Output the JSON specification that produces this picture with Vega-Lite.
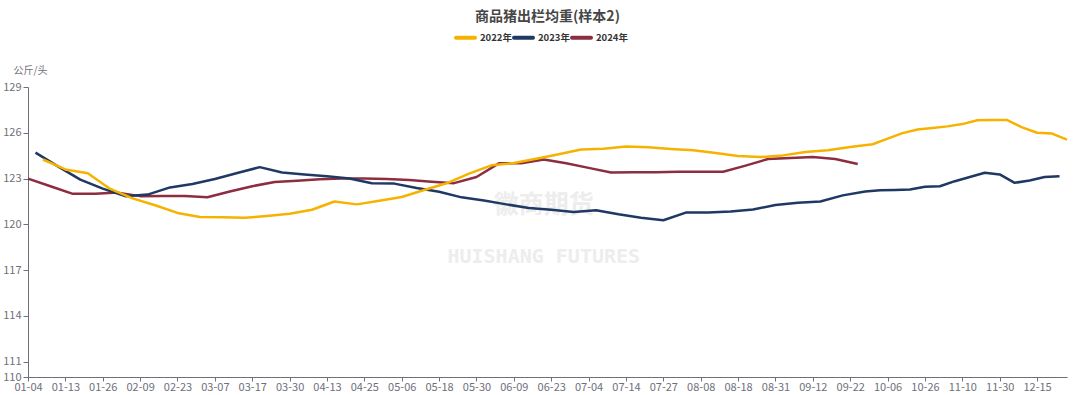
{
  "$schema": "https://vega.github.io/schema/vega-lite/v6.json",
  "autosize": {"type": "none"},
  "width": 1039,
  "height": 290,
  "padding": {"left": 28, "top": 87, "right": 13, "bottom": 18},
  "background": "white",
  "title": {"text": "商品猪出栏均重(样本2)", "anchor": "middle", "frame": "group", "offset": 2, "fontSize": 14, "font": "Noto Sans CJK SC", "fontWeight": "bold", "color": "#464646"},
  "config": {
    "view": {"stroke": null},
    "font": "Noto Sans CJK SC",
    "axis": {"domainColor": "#6E7079", "tickColor": "#6E7079", "labelColor": "#6E7079", "labelFontSize": 11, "labelFont": "Noto Sans CJK SC", "grid": false}
  },
  "datasets": {
    "watermark": [
      {"d": "06-20", "v": 121.25, "label": "徽商期货", "kind": "cn"},
      {"d": "06-20", "v": 117.85, "label": "HUISHANG FUTURES", "kind": "en"}
    ],
    "series": [
      {"d": "01-04", "year": "2024年", "v": 123.0},
      {"d": "01-09", "year": "2024年", "v": 122.5},
      {"d": "01-16", "year": "2024年", "v": 122.0},
      {"d": "01-23", "year": "2024年", "v": 122.0},
      {"d": "02-01", "year": "2024年", "v": 122.08},
      {"d": "02-09", "year": "2024年", "v": 121.85},
      {"d": "02-17", "year": "2024年", "v": 121.86},
      {"d": "02-25", "year": "2024年", "v": 121.86},
      {"d": "03-05", "year": "2024年", "v": 121.78},
      {"d": "03-11", "year": "2024年", "v": 122.15},
      {"d": "03-17", "year": "2024年", "v": 122.5},
      {"d": "03-25", "year": "2024年", "v": 122.77},
      {"d": "04-02", "year": "2024年", "v": 122.85},
      {"d": "04-10", "year": "2024年", "v": 122.95},
      {"d": "04-18", "year": "2024年", "v": 123.0},
      {"d": "04-25", "year": "2024年", "v": 123.0},
      {"d": "05-02", "year": "2024年", "v": 122.97},
      {"d": "05-08", "year": "2024年", "v": 122.9},
      {"d": "05-16", "year": "2024年", "v": 122.8},
      {"d": "05-23", "year": "2024年", "v": 122.7},
      {"d": "05-30", "year": "2024年", "v": 123.1},
      {"d": "06-05", "year": "2024年", "v": 124.0},
      {"d": "06-12", "year": "2024年", "v": 124.0},
      {"d": "06-20", "year": "2024年", "v": 124.25},
      {"d": "06-27", "year": "2024年", "v": 124.0},
      {"d": "07-04", "year": "2024年", "v": 123.7},
      {"d": "07-10", "year": "2024年", "v": 123.4},
      {"d": "07-17", "year": "2024年", "v": 123.41},
      {"d": "07-24", "year": "2024年", "v": 123.42},
      {"d": "08-01", "year": "2024年", "v": 123.44},
      {"d": "08-08", "year": "2024年", "v": 123.45},
      {"d": "08-14", "year": "2024年", "v": 123.45},
      {"d": "08-21", "year": "2024年", "v": 123.85},
      {"d": "08-28", "year": "2024年", "v": 124.28},
      {"d": "09-05", "year": "2024年", "v": 124.35},
      {"d": "09-12", "year": "2024年", "v": 124.42},
      {"d": "09-18", "year": "2024年", "v": 124.28},
      {"d": "09-25", "year": "2024年", "v": 123.95},

      {"d": "01-06", "year": "2023年", "v": 124.7},
      {"d": "01-11", "year": "2023年", "v": 123.8},
      {"d": "01-18", "year": "2023年", "v": 122.93},
      {"d": "01-26", "year": "2023年", "v": 122.34},
      {"d": "02-03", "year": "2023年", "v": 121.85},
      {"d": "02-12", "year": "2023年", "v": 121.95},
      {"d": "02-20", "year": "2023年", "v": 122.42},
      {"d": "02-28", "year": "2023年", "v": 122.65},
      {"d": "03-07", "year": "2023年", "v": 122.97},
      {"d": "03-13", "year": "2023年", "v": 123.37},
      {"d": "03-20", "year": "2023年", "v": 123.75},
      {"d": "03-27", "year": "2023年", "v": 123.4},
      {"d": "04-05", "year": "2023年", "v": 123.27},
      {"d": "04-13", "year": "2023年", "v": 123.15},
      {"d": "04-20", "year": "2023年", "v": 123.0},
      {"d": "04-27", "year": "2023年", "v": 122.7},
      {"d": "05-04", "year": "2023年", "v": 122.67},
      {"d": "05-11", "year": "2023年", "v": 122.38},
      {"d": "05-18", "year": "2023年", "v": 122.14},
      {"d": "05-25", "year": "2023年", "v": 121.77},
      {"d": "06-01", "year": "2023年", "v": 121.56},
      {"d": "06-07", "year": "2023年", "v": 121.31},
      {"d": "06-15", "year": "2023年", "v": 121.07},
      {"d": "06-23", "year": "2023年", "v": 120.96},
      {"d": "06-30", "year": "2023年", "v": 120.81},
      {"d": "07-06", "year": "2023年", "v": 120.92},
      {"d": "07-12", "year": "2023年", "v": 120.66},
      {"d": "07-19", "year": "2023年", "v": 120.44},
      {"d": "07-27", "year": "2023年", "v": 120.27},
      {"d": "08-03", "year": "2023年", "v": 120.77},
      {"d": "08-10", "year": "2023年", "v": 120.77},
      {"d": "08-16", "year": "2023年", "v": 120.85},
      {"d": "08-23", "year": "2023年", "v": 120.97},
      {"d": "08-31", "year": "2023年", "v": 121.27},
      {"d": "09-07", "year": "2023年", "v": 121.42},
      {"d": "09-14", "year": "2023年", "v": 121.5},
      {"d": "09-20", "year": "2023年", "v": 121.9},
      {"d": "09-28", "year": "2023年", "v": 122.16},
      {"d": "10-03", "year": "2023年", "v": 122.23},
      {"d": "10-10", "year": "2023年", "v": 122.25},
      {"d": "10-18", "year": "2023年", "v": 122.28},
      {"d": "10-26", "year": "2023年", "v": 122.47},
      {"d": "11-01", "year": "2023年", "v": 122.5},
      {"d": "11-07", "year": "2023年", "v": 122.83},
      {"d": "11-14", "year": "2023年", "v": 123.1},
      {"d": "11-22", "year": "2023年", "v": 123.38},
      {"d": "11-30", "year": "2023年", "v": 123.27},
      {"d": "12-06", "year": "2023年", "v": 122.72},
      {"d": "12-12", "year": "2023年", "v": 122.88},
      {"d": "12-18", "year": "2023年", "v": 123.1},
      {"d": "12-25", "year": "2023年", "v": 123.15},

      {"d": "01-08", "year": "2022年", "v": 124.25},
      {"d": "01-13", "year": "2022年", "v": 123.6},
      {"d": "01-21", "year": "2022年", "v": 123.35},
      {"d": "01-29", "year": "2022年", "v": 122.32},
      {"d": "02-06", "year": "2022年", "v": 121.7},
      {"d": "02-15", "year": "2022年", "v": 121.25},
      {"d": "02-23", "year": "2022年", "v": 120.75},
      {"d": "03-02", "year": "2022年", "v": 120.48},
      {"d": "03-09", "year": "2022年", "v": 120.46},
      {"d": "03-15", "year": "2022年", "v": 120.43},
      {"d": "03-22", "year": "2022年", "v": 120.55},
      {"d": "03-30", "year": "2022年", "v": 120.7},
      {"d": "04-07", "year": "2022年", "v": 120.96},
      {"d": "04-15", "year": "2022年", "v": 121.5},
      {"d": "04-23", "year": "2022年", "v": 121.31},
      {"d": "04-29", "year": "2022年", "v": 121.55},
      {"d": "05-06", "year": "2022年", "v": 121.79},
      {"d": "05-13", "year": "2022年", "v": 122.25},
      {"d": "05-20", "year": "2022年", "v": 122.69},
      {"d": "05-28", "year": "2022年", "v": 123.32},
      {"d": "06-03", "year": "2022年", "v": 123.87},
      {"d": "06-09", "year": "2022年", "v": 124.02},
      {"d": "06-17", "year": "2022年", "v": 124.3},
      {"d": "06-25", "year": "2022年", "v": 124.59},
      {"d": "07-02", "year": "2022年", "v": 124.9},
      {"d": "07-08", "year": "2022年", "v": 124.96},
      {"d": "07-14", "year": "2022年", "v": 125.1},
      {"d": "07-22", "year": "2022年", "v": 125.05},
      {"d": "07-29", "year": "2022年", "v": 124.94},
      {"d": "08-06", "year": "2022年", "v": 124.85},
      {"d": "08-12", "year": "2022年", "v": 124.68},
      {"d": "08-18", "year": "2022年", "v": 124.48},
      {"d": "08-26", "year": "2022年", "v": 124.41},
      {"d": "09-02", "year": "2022年", "v": 124.52},
      {"d": "09-10", "year": "2022年", "v": 124.74},
      {"d": "09-16", "year": "2022年", "v": 124.85},
      {"d": "09-22", "year": "2022年", "v": 125.07},
      {"d": "09-30", "year": "2022年", "v": 125.25},
      {"d": "10-06", "year": "2022年", "v": 125.62},
      {"d": "10-14", "year": "2022年", "v": 125.98},
      {"d": "10-22", "year": "2022年", "v": 126.22},
      {"d": "10-29", "year": "2022年", "v": 126.32},
      {"d": "11-04", "year": "2022年", "v": 126.42},
      {"d": "11-10", "year": "2022年", "v": 126.57},
      {"d": "11-18", "year": "2022年", "v": 126.82},
      {"d": "11-26", "year": "2022年", "v": 126.83},
      {"d": "12-03", "year": "2022年", "v": 126.83},
      {"d": "12-09", "year": "2022年", "v": 126.35},
      {"d": "12-15", "year": "2022年", "v": 126.0},
      {"d": "12-22", "year": "2022年", "v": 125.95},
      {"d": "12-29", "year": "2022年", "v": 125.55}
    ]
  },
  "encoding": {
    "x": {
      "field": "d", "type": "ordinal", "sort": "ascending",
      "scale": {"type": "point", "padding": 0},
      "axis": {
        "title": null, "labelAngle": 0, "tickSize": 4, "labelPadding": 0,
        "values": ["01-04","01-13","01-26","02-09","02-23","03-07","03-17","03-30","04-13","04-25","05-06","05-18","05-30","06-09","06-23","07-04","07-14","07-27","08-08","08-18","08-31","09-12","09-22","10-06","10-26","11-10","11-30","12-15"]
      }
    },
    "y": {
      "field": "v", "type": "quantitative",
      "scale": {"domain": [110, 129], "nice": false, "zero": false},
      "axis": {
        "values": [110, 111, 114, 117, 120, 123, 126, 129],
        "tickSize": 5, "labelPadding": 2,
        "title": "公斤/头", "titleAngle": 0, "titleAlign": "left", "titleBaseline": "bottom",
        "titleX": -15, "titleY": -12, "titleFontSize": 10, "titleFontWeight": "normal", "titleColor": "#6E7079", "titleFont": "Noto Sans CJK SC"
      }
    }
  },
  "layer": [
    {
      "data": {"name": "watermark"},
      "transform": [{"filter": "datum.kind == 'cn'"}],
      "mark": {"type": "text", "fontSize": 25, "fontWeight": "bold", "font": "Noto Sans CJK SC", "color": "#ededed", "align": "center", "baseline": "middle"},
      "encoding": {"text": {"field": "label"}}
    },
    {
      "data": {"name": "watermark"},
      "transform": [{"filter": "datum.kind == 'en'"}],
      "mark": {"type": "text", "fontSize": 20, "fontWeight": "bold", "font": "DejaVu Sans Mono", "color": "#ededed", "align": "center", "baseline": "middle"},
      "encoding": {"text": {"field": "label"}}
    },
    {
      "data": {"name": "series"},
      "mark": {"type": "line", "strokeWidth": 2.5, "strokeJoin": "round"},
      "encoding": {
        "color": {
          "field": "year", "type": "nominal",
          "scale": {"domain": ["2022年", "2023年", "2024年"], "range": ["#F5B300", "#1F3864", "#8C2D40"]},
          "legend": {
            "orient": "none", "legendX": 426, "legendY": -61, "direction": "horizontal", "title": null,
            "symbolType": "stroke", "symbolSize": 361, "symbolStrokeWidth": 4,
            "labelFontSize": 9.5, "labelColor": "#333333", "labelFont": "Noto Sans CJK SC", "labelFontWeight": "bold",
            "labelOffset": 3, "columnPadding": -7,
            "encode": {"symbols": {"update": {"strokeCap": {"value": "round"}}}}
          }
        }
      }
    }
  ]
}
